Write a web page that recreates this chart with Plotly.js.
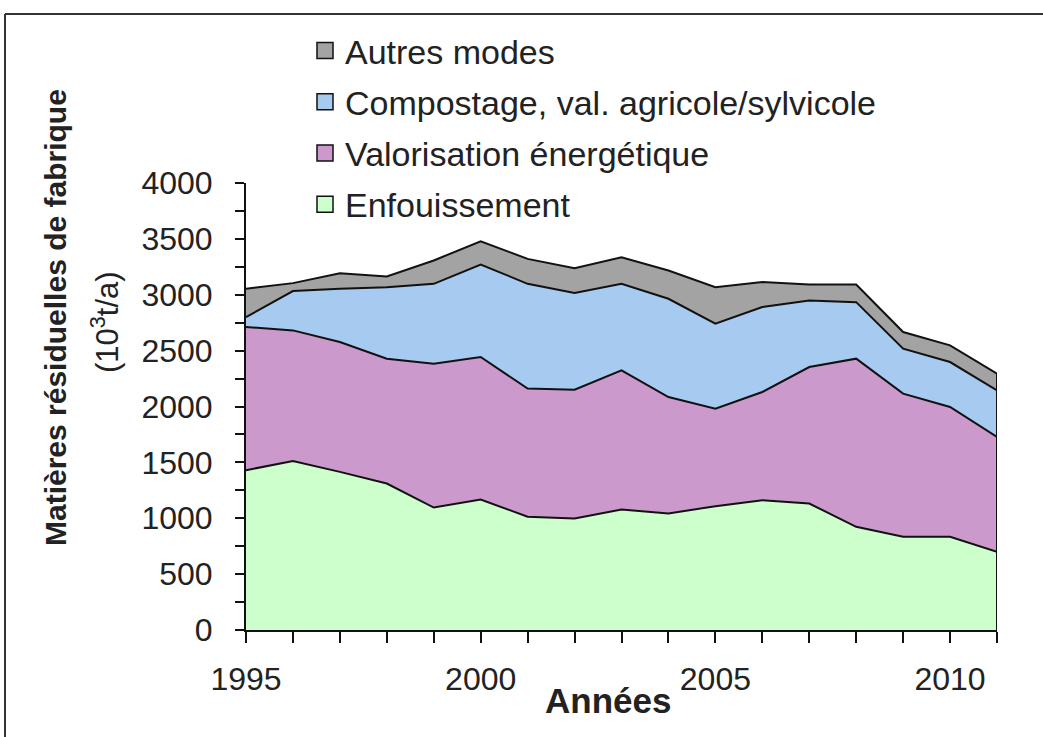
<!DOCTYPE html>
<html>
<head>
<meta charset="utf-8">
<script src="https://cdn.plot.ly/plotly-3.0.1.min.js"></script>
<style>html,body{margin:0;padding:0;background:#fff;}#chart{width:1043px;height:737px;}</style>
</head>
<body>
<div id="chart"></div>
<script>
// ---- data (10^3 t/a) ----
const years = [1995,1996,1997,1998,1999,2000,2001,2002,2003,2004,2005,2006,2007,2008,2009,2010,2011];
const enfouissement = [1430,1513,1415,1311,1096,1168,1013,998,1078,1043,1108,1162,1132,923,834,834,700];
const valorisation  = [1281,1168,1162,1117,1287,1275,1147,1152,1246,1042,873,968,1221,1505,1281,1162,1027];
const compostage    = [89,352,476,640,715,828,938,865,774,879,760,760,596,506,402,402,418];
const autres        = [253,71,140,95,209,208,223,223,238,253,327,223,143,158,149,149,149];

const seriesNames = ["Enfouissement","Valorisation énergétique","Compostage, val. agricole/sylvicole","Autres modes"];
const seriesValues = [enfouissement, valorisation, compostage, autres];
const seriesColors = ["#ccffcc","#cc99cc","#a6caf0","#a3a3a3"];

const yTitle1 = "Matières résiduelles de fabrique";
const yTitle2 = "(10<sup>3</sup>t/a)";
const xTitle = "Années";

const traces = [];
seriesValues.forEach((vals, i) => {
  traces.push({
    type: "scatter", mode: "lines", x: years, y: vals,
    stackgroup: "one", name: seriesNames[i], showlegend: false,
    line: {color: "#111", width: 2}, fillcolor: seriesColors[i],
    hoverinfo: "x+y+name"
  });
});
// right edge outline at last year (from total of stacked series)
const lastIdx = years.length - 1;
const lastTotal = seriesValues.reduce((s, v) => s + v[lastIdx], 0);
traces.push({type:"scatter", mode:"lines", x:[years[lastIdx], years[lastIdx]], y:[0, lastTotal],
  line:{color:"#111", width:2}, showlegend:false, hoverinfo:"skip"});
// legend entries (top: Autres modes)
for (let i = seriesNames.length - 1; i >= 0; i--) {
  traces.push({type:"scatter", mode:"markers", x:[null], y:[null], name: seriesNames[i],
    legendgroup: "g" + i,
    marker:{symbol:"square", size:16, color: seriesColors[i], line:{color:"#111", width:1.5}}});
}

const fontFam = "Liberation Sans, Arial, sans-serif";
const layout = {
  width: 1043, height: 737,
  margin: {l: 246, r: 46, t: 183, b: 107, autoexpand: false},
  paper_bgcolor: "#fff", plot_bgcolor: "#fff",
  font: {family: fontFam, color: "#222", size: 32},
  showlegend: true,
  legend: {x: (305-246)/751, xanchor: "left", y: (630-22)/447, yanchor: "top",
    font: {family: fontFam, size: 34, color: "#222"}, bgcolor: "rgba(0,0,0,0)",
    traceorder: "grouped", tracegroupgap: 4, itemclick: false},
  xaxis: {range: [1995, 2011], tickmode: "array", tickvals: [1995, 2000, 2005, 2010],
    ticks: "outside", ticklen: 11, tickwidth: 2, tickcolor: "#111",
    minor: {dtick: 1, tick0: 1995, ticks: "outside", ticklen: 11, tickwidth: 2, tickcolor: "#111"},
    showline: true, linecolor: "#111", linewidth: 2, showgrid: false, zeroline: false,
    tickfont: {size: 32, color: "#222"}, ticklabelstandoff: 9, fixedrange: true},
  yaxis: {range: [0, 4000], dtick: 500, tick0: 0,
    ticks: "outside", ticklen: 9, tickwidth: 2, tickcolor: "#111",
    minor: {dtick: 250, ticks: "outside", ticklen: 9, tickwidth: 2, tickcolor: "#111"},
    showline: true, linecolor: "#111", linewidth: 2, showgrid: false, zeroline: false,
    tickfont: {size: 32, color: "#222"}, ticklabelstandoff: 16, fixedrange: true},
  annotations: [
    {text: "<b>" + yTitle1 + "</b>", xref: "paper", yref: "paper", x: (55-246)/751, y: (630-317)/447,
      xanchor: "center", yanchor: "middle", textangle: -90, showarrow: false,
      font: {family: fontFam, size: 30, color: "#222"}},
    {text: yTitle2, xref: "paper", yref: "paper", x: (105-246)/751, y: (630-322)/447,
      xanchor: "center", yanchor: "middle", textangle: -90, showarrow: false,
      font: {family: fontFam, size: 31, color: "#222"}},
    {text: "<b>" + xTitle + "</b>", xref: "paper", yref: "paper", x: (608-246)/751, y: (630-700)/447,
      xanchor: "center", yanchor: "middle", showarrow: false,
      font: {family: fontFam, size: 35, color: "#222"}}
  ],
  shapes: [
    {type: "line", xref: "paper", yref: "paper", x0: (5-246)/751, x1: (1043-246)/751,
      y0: (630-14)/447, y1: (630-14)/447, line: {color: "#333", width: 2}},
    {type: "line", xref: "paper", yref: "paper", x0: (5-246)/751, x1: (5-246)/751,
      y0: (630-14)/447, y1: (630-737)/447, line: {color: "#333", width: 2}}
  ]
};
Plotly.newPlot("chart", traces, layout, {displayModeBar: false, staticPlot: true});
</script>
</body>
</html>
